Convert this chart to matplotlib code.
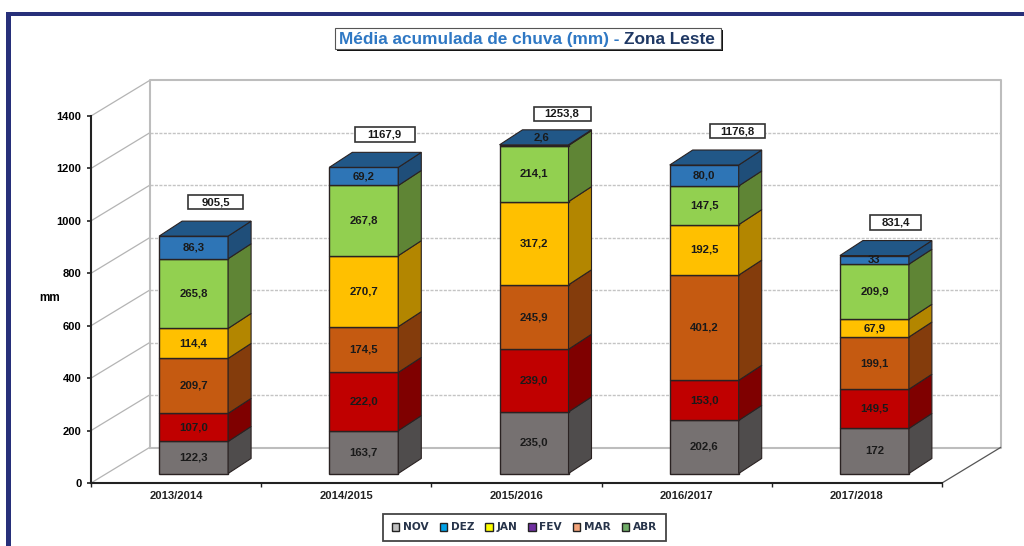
import matplotlib
matplotlib.use('Agg')
import matplotlib.pyplot as plt
from matplotlib.patches import Rectangle

# dados
safras = ['2013/2014', '2014/2015', '2015/2016', '2016/2017', '2017/2018']
meses = ['NOV', 'DEZ', 'JAN', 'FEV', 'MAR', 'ABR']
nov = [122.3, 163.7, 235.0, 202.6, 172]
dez = [107.0, 222.0, 239.0, 153.0, 149.5]
jan = [209.7, 174.5, 245.9, 401.2, 199.1]
fev = [114.4, 270.7, 317.2, 192.5, 67.9]
mar = [265.8, 267.8, 214.1, 147.5, 209.9]
abr = [86.3, 69.2, 2.6, 80.0, 33]
rotulos = [
    ['122,3', '163,7', '235,0', '202,6', '172'],
    ['107,0', '222,0', '239,0', '153,0', '149,5'],
    ['209,7', '174,5', '245,9', '401,2', '199,1'],
    ['114,4', '270,7', '317,2', '192,5', '67,9'],
    ['265,8', '267,8', '214,1', '147,5', '209,9'],
    ['86,3', '69,2', '2,6', '80,0', '33'],
]
totais = ['905,5', '1167,9', '1253,8', '1176,8', '831,4']
yticks = [0, 200, 400, 600, 800, 1000, 1200, 1400]

series = [nov, dez, jan, fev, mar, abr]
cor_frente = ['#767171', '#c00000', '#c55a11', '#ffc000', '#92d050', '#2e75b6']
cor_lado = ['#4f4c4c', '#7f0000', '#843c0c', '#b38600', '#5f8535', '#1f4e79']
cor_topo = '#215787'
cor_legenda = ['#bfbfbf', '#00a2e8', '#ffff00', '#7030a0', '#f4a47a', '#70ad67']

plt.rcParams['font.family'] = ['Liberation Sans', 'DejaVu Sans']

fig = plt.figure(figsize=(10.24, 5.46), dpi=100, facecolor='white')

# eixo principal: 91..942 px em x, 483..116 px em y
ax = fig.add_axes([91 / 1024, 1 - 483 / 546, 851 / 1024, 367 / 546])
ax.set_xlim(0, 5)
ax.set_ylim(0, 1400)
ax.patch.set_alpha(0)

px_x = 851 / 5
px_y = 367 / 1400
parede_dx = 58.5 / px_x
parede_dy = 35.5 / px_y
base = 9.5 / px_y
desloc = 17.5 / px_x
meia = 34.5 / px_x
barra_dx = 23 / px_x
barra_dy = 15 / px_y

# paredes e grade
cinza = '#bdbdbd'
for v in yticks:
    ax.plot([0, parede_dx], [v, v + parede_dy], color='#b4b4b4', lw=0.9, clip_on=False, zorder=1)
    if 0 < v < 1400:
        ax.plot([parede_dx, 5 + parede_dx], [v + parede_dy] * 2, color='#c4c4c4', lw=1.0,
                ls=(0, (2.2, 1.0)), clip_on=False, zorder=1)
ax.plot([parede_dx, 5 + parede_dx, 5 + parede_dx, parede_dx, parede_dx],
        [parede_dy, parede_dy, 1400 + parede_dy, 1400 + parede_dy, parede_dy],
        color=cinza, lw=1.5, clip_on=False, zorder=1)
ax.plot([5, 5 + parede_dx], [0, parede_dy], color='#555555', lw=0.9, clip_on=False, zorder=1)

# barras empilhadas com falso 3D
for i in range(len(safras)):
    x0 = i + 0.5 + desloc - meia
    x1 = i + 0.5 + desloc + meia
    y = base
    for s, valores in enumerate(series):
        v = valores[i]
        ax.fill([x0, x1, x1, x0], [y, y, y + v, y + v], fc=cor_frente[s], ec='#2a2222',
                lw=1.0, clip_on=False, zorder=3)
        ax.fill([x1, x1 + barra_dx, x1 + barra_dx, x1],
                [y, y + barra_dy, y + v + barra_dy, y + v], fc=cor_lado[s], ec='#2a2222',
                lw=0.8, clip_on=False, zorder=3)
        y += v
    ax.fill([x0, x1, x1 + barra_dx, x0 + barra_dx],
            [y, y, y + barra_dy, y + barra_dy], fc=cor_topo, ec='#2a2222',
            lw=0.8, clip_on=False, zorder=3)

    # rotulos por cima das faces
    y = base
    for s, valores in enumerate(series):
        v = valores[i]
        lx, ly = (x0 + x1) / 2, y + v / 2
        if v < 10:
            lx += 8 / px_x
            ly += 8 / px_y
        ax.text(lx, ly, rotulos[s][i], ha='center', va='center', fontsize=8.2,
                fontweight='bold', color='#1a1a1a', clip_on=False, zorder=4)
        y += v

# caixas com o total
ajuste_total = [22, 21, 28, 33, 21]
ajuste_alt = [19, 18, 16, 19, 18]
caixa_w = [55, 60, 57, 55, 51]
for i in range(len(safras)):
    topo = base + sum(c[i] for c in series) + barra_dy
    cx = i + 0.5 + desloc + ajuste_total[i] / px_x
    cy = topo + ajuste_alt[i] / px_y
    larg = caixa_w[i] / px_x
    alt = 14.5 / px_y
    ax.add_patch(Rectangle((cx - larg / 2, cy - alt / 2), larg, alt, fc='white', ec='#333333',
                           lw=1.2, clip_on=False, zorder=5))
    ax.text(cx, cy, totais[i], ha='center', va='center', fontsize=8.2, fontweight='bold',
            color='#1a1a1a', clip_on=False, zorder=6)

# eixos
for lado in ['top', 'right']:
    ax.spines[lado].set_visible(False)
for lado in ['left', 'bottom']:
    ax.spines[lado].set_linewidth(1.5)
    ax.spines[lado].set_color('#222222')
    ax.spines[lado].set_zorder(6)
ax.set_yticks(yticks)
ax.set_yticklabels([str(v) for v in yticks], fontsize=8, fontweight='bold')
ax.set_xticks(range(6))
ax.set_xticklabels([])
ax.set_xticks([i + 0.5 for i in range(5)], minor=True)
ax.set_xticklabels(safras, minor=True, fontsize=8.1, fontweight='bold', color='#222222')
ax.tick_params(axis='x', which='minor', length=0, pad=6)
ax.tick_params(axis='x', which='major', length=3, width=1, color='#222222')
ax.tick_params(axis='y', length=3, width=1.2, pad=4, color='#222222')
ax.set_ylabel('mm', rotation=0, fontsize=8.5, fontweight='bold', ha='center', va='center')
ax.yaxis.set_label_coords(-41 / 851, 185 / 367)

# legenda
alcas = [Rectangle((0, 0), 1, 1, fc=c, ec='#222222', lw=1.0) for c in cor_legenda]
leg = ax.legend(alcas, meses, ncol=6, loc='center', bbox_to_anchor=(433.5 / 851, -44.5 / 367),
                fancybox=False, framealpha=1, edgecolor='#444444', handlelength=0.7,
                handleheight=0.7, handletextpad=0.35, columnspacing=1.05, borderpad=0.78,
                prop={'family': 'DejaVu Sans', 'weight': 'bold', 'size': 7.6})
leg.get_frame().set_linewidth(1.3)
for t in leg.get_texts():
    t.set_color('#27344a')

# moldura e titulo em coordenadas de pixel
tela = fig.add_axes([0, 0, 1, 1], zorder=-1)
tela.set_xlim(0, 1024)
tela.set_ylim(546, 0)
tela.axis('off')
tela.add_patch(Rectangle((6, 12), 1018, 4, fc='#27307a', ec='none'))
tela.add_patch(Rectangle((6, 12), 5, 534, fc='#27307a', ec='none'))
tela.add_patch(Rectangle((337, 30), 386, 21, fc='#111111', ec='none'))
tela.add_patch(Rectangle((335, 28), 386, 21, fc='white', ec='#555555', lw=0.8))
t1 = tela.text(339, 44, 'Média acumulada de chuva (mm) - ', ha='left', va='baseline',
               fontsize=12.4, fontweight='bold', color='#2f78c4')
fig.canvas.draw()
fim = t1.get_window_extent().x1
tela.text(fim, 44, 'Zona Leste', ha='left', va='baseline', fontsize=12.4,
          fontweight='bold', color='#1f3864')

fig.savefig('out.png', dpi=100)
